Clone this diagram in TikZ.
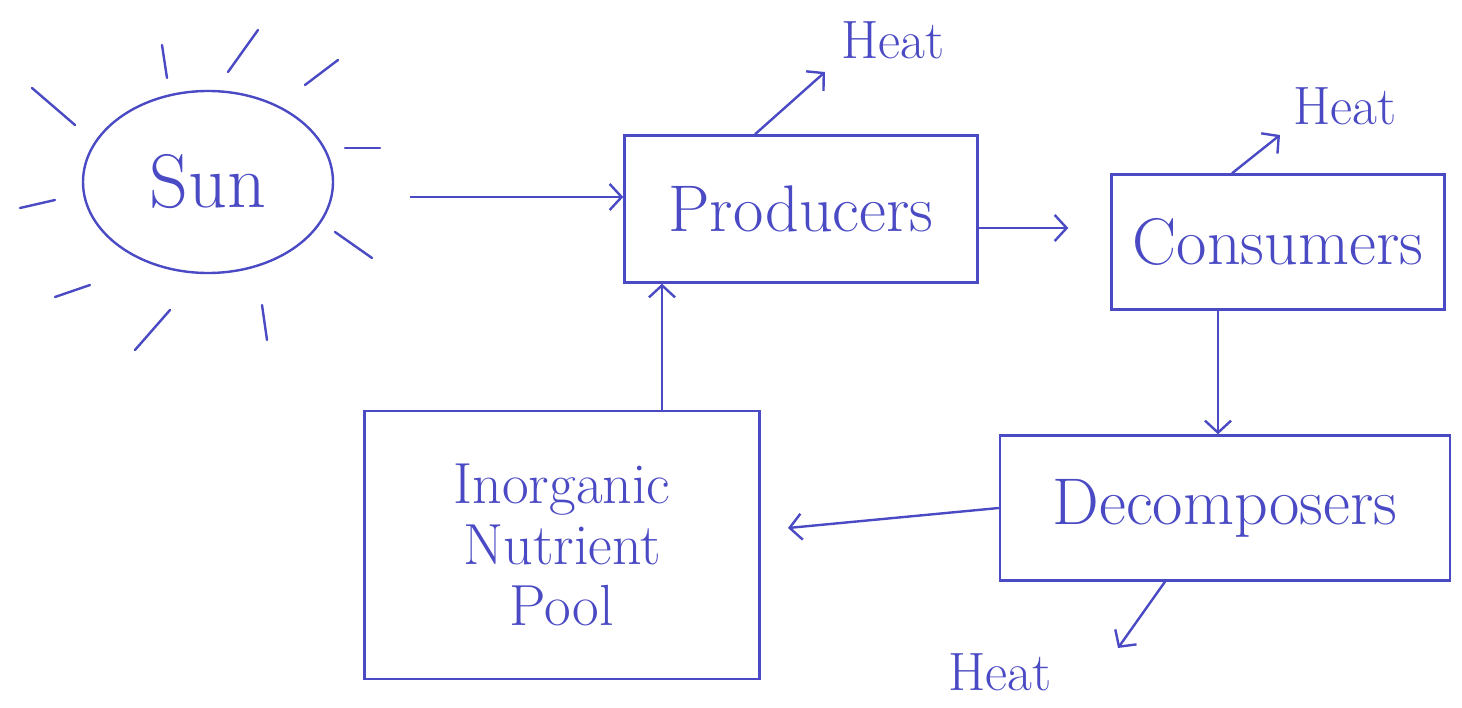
\documentclass[tikz,border=0pt]{standalone}
\usetikzlibrary{arrows.meta,shapes.geometric,calc}
\definecolor{ink}{HTML}{4A4AC4}
\begin{document}
\begin{tikzpicture}[x=1pt,y=-1pt,line width=2.4pt,draw=ink,
  every node/.style={text=ink,font=\fontsize{66}{70}\selectfont},
  box/.style={draw=ink,rectangle,inner sep=6pt},
  heatlbl/.style={font=\fontsize{54}{58}\selectfont,inner sep=2pt},
  arr/.style={-{Straight Barb[length=12pt,width=26pt,line width=2.4pt]}},
  ray/.style={line cap=round}]
\fill[white] (0,0) rectangle (1462,708);
\useasboundingbox (0,0) rectangle (1462,708);
% Sun
\node[draw=ink,ellipse,minimum width=250pt,minimum height=182pt,font=\fontsize{76}{80}\selectfont] (sun) at (208,182) {Sun};
\draw[ray] (162,45) -- (167,78);
\draw[ray] (258,30) -- (228,72);
\draw[ray] (338,60) -- (305,85);
\draw[ray] (32,88) -- (75,125);
\draw[ray] (345,148) -- (380,148);
\draw[ray] (20,208) -- (55,200);
\draw[ray] (335,232) -- (372,258);
\draw[ray] (55,297) -- (90,285);
\draw[ray] (170,310) -- (135,350);
\draw[ray] (262,305) -- (267,340);
% boxes
\node[box,minimum width=353pt,minimum height=147pt] (prod) at (801,209) {Producers};
\node[box,minimum width=333pt,minimum height=135pt] (cons) at (1278,242) {Consumers};
\node[box,minimum width=450pt,minimum height=145pt] (dec) at (1225,508) {Decomposers};
\node[box,minimum width=395pt,minimum height=268pt,align=center,font=\fontsize{58}{61}\selectfont] (pool) at (562,545) {Inorganic\\Nutrient\\Pool};
% heat labels
\node[heatlbl] (h1) at (893,40) {Heat};
\node[heatlbl] (h2) at (1345,106) {Heat};
\node[heatlbl] (h3) at (1000,672) {Heat};
\coordinate (t1) at (825,72);
\coordinate (t2) at (1280,135);
\coordinate (t3) at (1118,648);
\coordinate (t4) at (788,528);
% connectors
\coordinate (sunout) at (410,197);
\draw[arr] (sunout) -- (prod.west |- sunout);
\draw[arr] (prod.east |- 0,228) -- ($(cons.west |- 0,228)+(-42,0)$);
\draw[arr] (cons.south -| 1218,0) -- (dec.north -| 1218,0);
\draw[arr] (dec.west) -- (t4);
\draw[arr] (pool.north -| 662,0) -- (prod.south -| 662,0);
\draw[arr] (prod.north -| 755,0) -- (t1);
\draw[arr] (cons.north -| 1232,0) -- (t2);
\draw[arr] (dec.south -| 1165,0) -- (t3);
\end{tikzpicture}
\end{document}
